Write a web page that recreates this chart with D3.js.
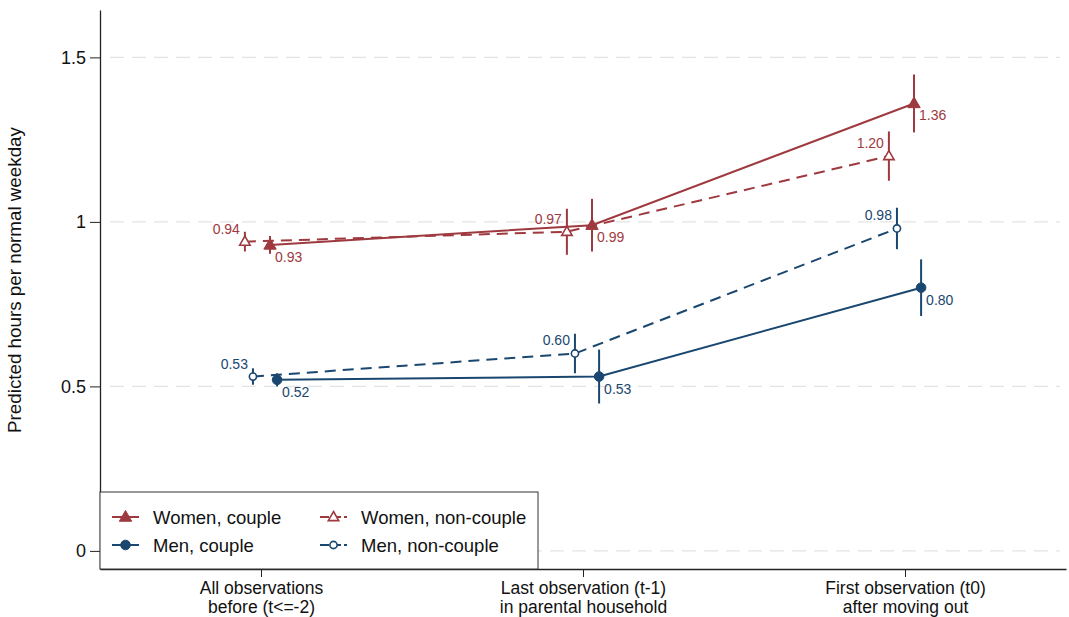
<!DOCTYPE html>
<html>
<head>
<meta charset="utf-8">
<script src="https://cdn.jsdelivr.net/npm/d3@7"></script>
<style>
  body { margin: 0; background: #fff; }
  text { font-family: "Liberation Sans", Arial, sans-serif; }
</style>
</head>
<body>
<svg width="1069" height="617"></svg>
<script>
// categories on x axis (two-line labels)
var categories = [
  ["All observations", "before (t<=-2)"],
  ["Last observation (t-1)", "in parental household"],
  ["First observation (t0)", "after moving out"]
];
var yTicks = [0, 0.5, 1, 1.5];

// point estimates and confidence bounds per series
var womenCouple = [0.93, 0.99, 1.36];
var womenCoupleLo = [0.903, 0.91, 1.272];
var womenCoupleHi = [0.957, 1.07, 1.448];

var womenNon = [0.94, 0.97, 1.20];
var womenNonLo = [0.91, 0.90, 1.125];
var womenNonHi = [0.97, 1.04, 1.275];

var menCouple = [0.52, 0.53, 0.80];
var menCoupleLo = [0.50, 0.448, 0.714];
var menCoupleHi = [0.54, 0.612, 0.886];

var menNon = [0.53, 0.60, 0.98];
var menNonLo = [0.505, 0.54, 0.917];
var menNonHi = [0.555, 0.66, 1.043];

var red = "#9e3a3f", blue = "#1a476f";

var series = [
  { name: "Women, non-couple", v: womenNon, lo: womenNonLo, hi: womenNonHi, color: red, shape: "tri", open: true, dash: true, off: -0.05, lab: "ul" },
  { name: "Men, non-couple", v: menNon, lo: menNonLo, hi: menNonHi, color: blue, shape: "circ", open: true, dash: true, off: -0.025, lab: "ul" },
  { name: "Women, couple", v: womenCouple, lo: womenCoupleLo, hi: womenCoupleHi, color: red, shape: "tri", open: false, dash: false, off: 0.028, lab: "lr" },
  { name: "Men, couple", v: menCouple, lo: menCoupleLo, hi: menCoupleHi, color: blue, shape: "circ", open: false, dash: false, off: 0.05, lab: "lr" }
];

var svg = d3.select("svg"),
  margin = { top: 10, right: 3, bottom: 48, left: 100 },
  width = +svg.attr("width") - margin.left - margin.right,
  height = +svg.attr("height") - margin.top - margin.bottom,
  g = svg.append("g").attr("transform", "translate(" + margin.left + "," + margin.top + ")");

var x = d3.scaleLinear().domain([0.5, 3.5]).range([0, width]);
var y = d3.scaleLinear().domain([-0.055, 1.644]).range([height, 0]);

// gridlines
g.selectAll(".grid")
  .data(yTicks)
  .enter()
  .append("line")
  .attr("x1", 10).attr("x2", width - 6)
  .attr("y1", d => y(d)).attr("y2", d => y(d))
  .attr("stroke", "#e3e3e3")
  .attr("stroke-width", 1.3)
  .attr("stroke-dasharray", "14,8");

// axes
var yAxis = g.append("g")
  .call(d3.axisLeft(y).tickValues(yTicks).tickFormat(d3.format("")).tickSize(10).tickSizeOuter(0));
yAxis.select(".domain").attr("stroke", "#222").attr("stroke-width", 1.3);
yAxis.selectAll(".tick line").attr("stroke", "#222");
yAxis.selectAll(".tick text").attr("font-size", 18).attr("fill", "#111").attr("x", -14);

var xAxis = g.append("g")
  .attr("transform", "translate(0," + height + ")")
  .call(d3.axisBottom(x).tickValues([1, 2, 3]).tickFormat("").tickSize(8).tickSizeOuter(0));
xAxis.select(".domain").attr("stroke", "#222").attr("stroke-width", 1.3);
xAxis.selectAll(".tick line").attr("stroke", "#222");

xAxis.selectAll(".tick").each(function(d, i) {
  var t = d3.select(this).append("text")
    .attr("fill", "#111")
    .attr("font-size", 17.5)
    .attr("text-anchor", "middle");
  categories[i].forEach(function(line, j) {
    t.append("tspan").attr("x", 0).attr("y", 25 + j * 19).text(line);
  });
});

svg.append("text")
  .attr("transform", "translate(21,280) rotate(-90)")
  .attr("text-anchor", "middle")
  .attr("font-size", 18.8)
  .attr("fill", "#111")
  .text("Predicted hours per normal weekday");

function drawMarker(sel, s, px, py) {
  var fill = s.open ? "#fff" : s.color;
  if (s.shape == "tri") {
    var r = s.open ? 5.5 : 6.5;
    sel.append("path")
      .attr("d", "M" + px + "," + (py - r) + "L" + (px + r * 0.95) + "," + (py + r * 0.65) + "L" + (px - r * 0.95) + "," + (py + r * 0.65) + "Z")
      .attr("fill", fill).attr("stroke", s.color).attr("stroke-width", s.open ? 1.6 : 1);
  } else {
    sel.append("circle")
      .attr("cx", px).attr("cy", py).attr("r", s.open ? 3.6 : 4.8)
      .attr("fill", fill).attr("stroke", s.color).attr("stroke-width", s.open ? 1.6 : 1);
  }
}

var line = d3.line().x((d, i) => x(i + 1 + d.off)).y(d => y(d.v));

series.forEach(function(s) {
  var pts = s.v.map(function(v, i) { return { v: v, off: s.off, lo: s.lo[i], hi: s.hi[i] }; });
  var sg = g.append("g");
  sg.append("path")
    .attr("d", line(pts))
    .attr("fill", "none")
    .attr("stroke", s.color)
    .attr("stroke-width", 2)
    .attr("stroke-dasharray", s.dash ? "11,7" : null);
  pts.forEach(function(p, i) {
    var px = x(i + 1 + p.off);
    sg.append("line")
      .attr("x1", px).attr("x2", px)
      .attr("y1", y(p.lo)).attr("y2", y(p.hi))
      .attr("stroke", s.color).attr("stroke-width", 2);
    drawMarker(sg, s, px, y(p.v));
    sg.append("text")
      .attr("x", s.lab == "ul" ? px - 5 : px + 5)
      .attr("y", s.lab == "ul" ? y(p.v) - 8 : y(p.v) + 17)
      .attr("text-anchor", s.lab == "ul" ? "end" : "start")
      .attr("font-size", 14)
      .attr("fill", s.color)
      .text(d3.format(".2f")(p.v));
  });
});

// legend
var legendItems = [series[2], series[0], series[3], series[1]];
var lg = g.append("g");
lg.append("rect")
  .attr("x", 0).attr("y", 482)
  .attr("width", 438).attr("height", height - 482)
  .attr("fill", "#fff").attr("stroke", "#333").attr("stroke-width", 1);
legendItems.forEach(function(s, i) {
  var col = i % 2, row = Math.floor(i / 2);
  var lx = 12 + col * 208, ly = 507 + row * 28;
  lg.append("line")
    .attr("x1", lx).attr("x2", lx + 27)
    .attr("y1", ly).attr("y2", ly)
    .attr("stroke", s.color).attr("stroke-width", 2)
    .attr("stroke-dasharray", s.dash ? "9,3" : null);
  drawMarker(lg, s, lx + 13.5, ly);
  lg.append("text")
    .attr("x", lx + 41).attr("y", ly + 6.5)
    .attr("font-size", 18.5)
    .attr("fill", "#111")
    .text(s.name);
});
</script>
</body>
</html>
